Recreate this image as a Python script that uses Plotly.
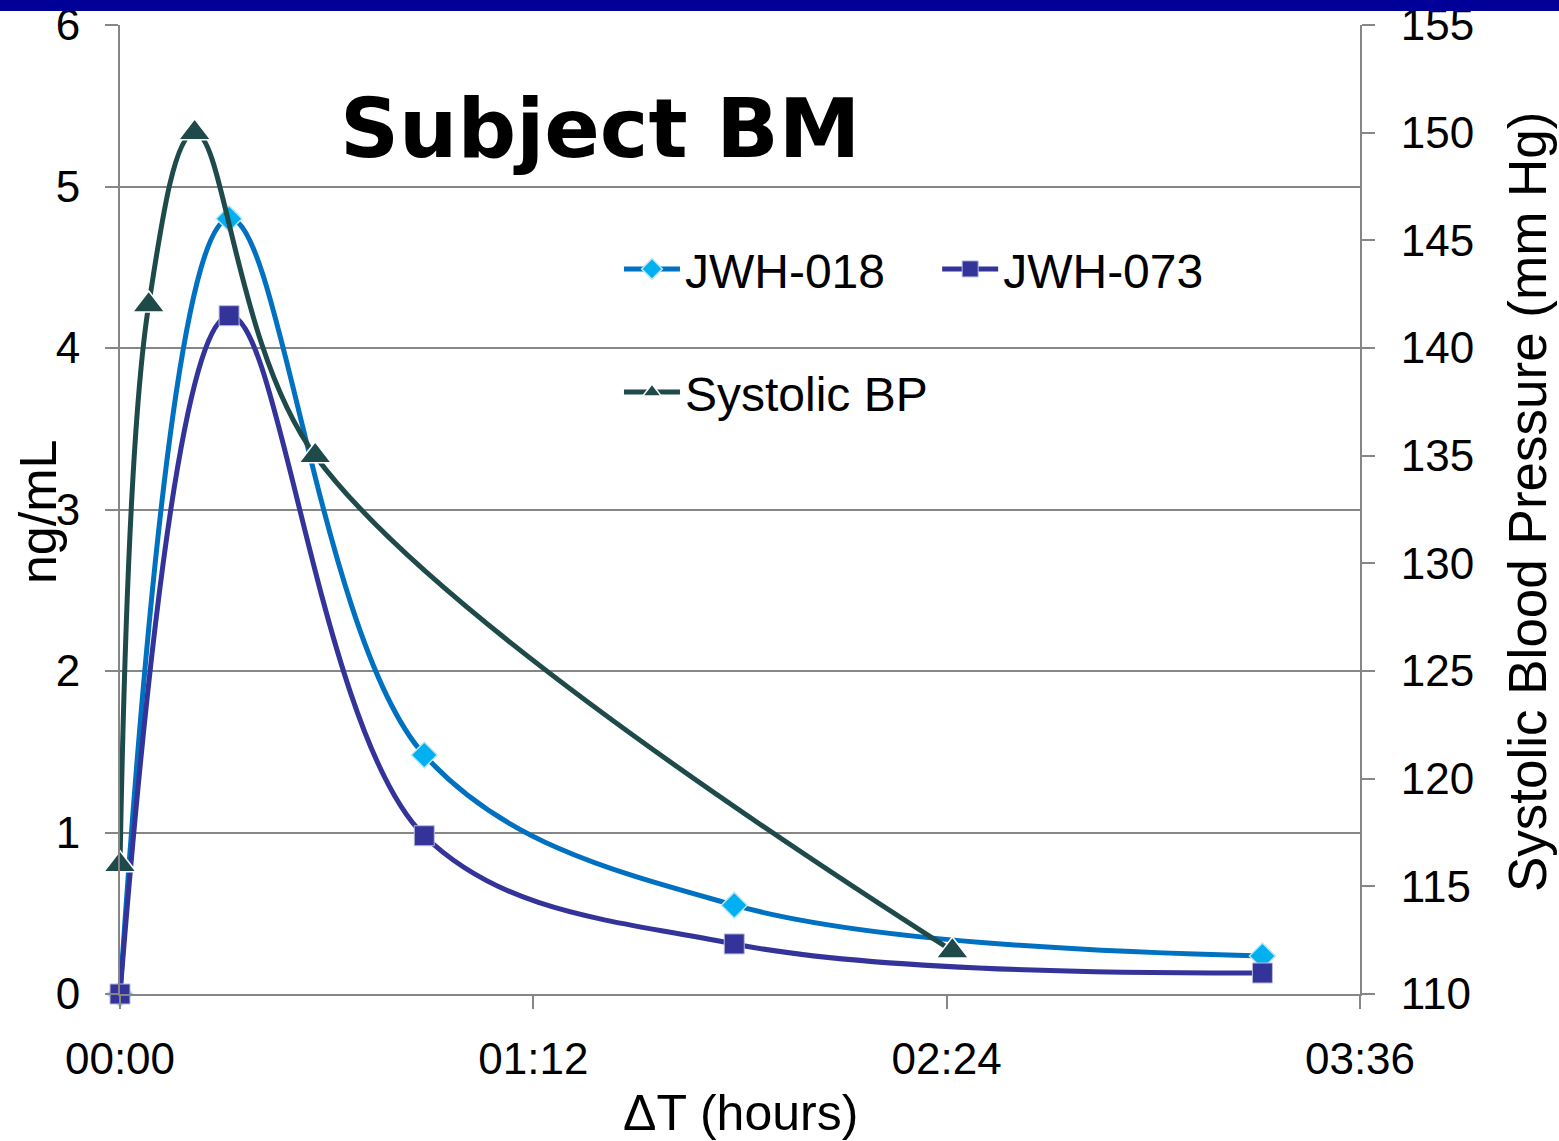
import plotly.graph_objects as go

# ---- data (minutes since dose) ----
time_jwh = [0, 19, 53, 107, 199]
jwh018 = [0, 4.80, 1.48, 0.55, 0.235]
jwh073 = [0, 4.20, 0.98, 0.31, 0.13]
time_bp = [0, 5, 13, 34, 145]
systolic_bp = [116, 142, 150, 135, 112]

x_tickvals = [0, 72, 144, 216]
x_ticktext = ["00:00", "01:12", "02:24", "03:36"]
left_ticks = [0, 1, 2, 3, 4, 5, 6]
right_ticks = [110, 115, 120, 125, 130, 135, 140, 145, 150, 155]

FONT = "Liberation Sans, Arial, sans-serif"
GRID = "#868686"

fig = go.Figure()
fig.add_trace(go.Scatter(
    x=time_jwh, y=jwh018, name="JWH-018", mode="lines+markers",
    line=dict(color="#0070C0", width=5, shape="spline", smoothing=1),
    marker=dict(symbol="diamond", size=20, color="#00B0F0",
                line=dict(color="#BFE6F2", width=1.5)),
    cliponaxis=False, legend="legend"))
fig.add_trace(go.Scatter(
    x=time_jwh, y=jwh073, name="JWH-073", mode="lines+markers",
    line=dict(color="#333399", width=5, shape="spline", smoothing=1),
    marker=dict(symbol="square", size=20, color="#333399",
                line=dict(color="#B8BCE0", width=1)),
    cliponaxis=False, legend="legend2"))
fig.add_trace(go.Scatter(
    x=time_bp, y=systolic_bp, name="Systolic BP", mode="lines+markers",
    line=dict(color="#1F4A4A", width=5, shape="spline", smoothing=1),
    marker=dict(symbol="triangle-up", size=28, color="#1F4A4A",
                line=dict(color="#FFFFFF", width=1.5)),
    cliponaxis=False, yaxis="y2", legend="legend3"))

tickfont = dict(family=FONT, size=44, color="#000000")
legfont = dict(family=FONT, size=48, color="#000000")

fig.update_layout(
    width=1559, height=1141,
    margin=dict(l=120, r=199, t=25, b=147, autoexpand=False),
    paper_bgcolor="white", plot_bgcolor="white",
    font=dict(family=FONT, color="#000000"),
    xaxis=dict(range=[0, 216], tickvals=x_tickvals, ticktext=x_ticktext,
               showgrid=False, zeroline=False, showline=True,
               linecolor=GRID, linewidth=2, ticks="outside", ticklen=13,
               tickwidth=2, tickcolor=GRID, tickfont=tickfont,
               ticklabelstandoff=12, automargin=False),
    yaxis=dict(range=[0, 6], tickvals=left_ticks, showgrid=True,
               gridcolor=GRID, gridwidth=2, zeroline=False, showline=True,
               linecolor=GRID, linewidth=2, ticks="outside", ticklen=13,
               tickwidth=2, tickcolor=GRID, tickfont=tickfont,
               ticklabelstandoff=16, automargin=False),
    yaxis2=dict(range=[110, 155], tickvals=right_ticks, overlaying="y",
                side="right", showgrid=False, zeroline=False, showline=True,
                linecolor=GRID, linewidth=2, ticks="outside", ticklen=13,
                tickwidth=2, tickcolor=GRID, tickfont=tickfont,
                ticklabelstandoff=17, automargin=False),
    legend=dict(x=0.4024, y=0.748, xanchor="left", yanchor="middle",
                bgcolor="rgba(0,0,0,0)", itemwidth=56, font=legfont),
    legend2=dict(x=0.659, y=0.748, xanchor="left", yanchor="middle",
                 bgcolor="rgba(0,0,0,0)", itemwidth=56, font=legfont),
    legend3=dict(x=0.4024, y=0.621, xanchor="left", yanchor="middle",
                 bgcolor="rgba(0,0,0,0)", itemwidth=56, font=legfont),
    showlegend=True,
)

# chart title and axis titles
fig.add_annotation(text="<b>Subject BM</b>", xref="paper", yref="paper",
                   x=0.3871, y=0.8927, xanchor="center", yanchor="middle",
                   showarrow=False,
                   font=dict(family="DejaVu Sans, " + FONT, size=82, color="#000000"))
fig.add_annotation(text="ΔT (hours)", xref="paper", yref="paper",
                   x=0.5, y=-0.1228, xanchor="center", yanchor="middle",
                   showarrow=False, font=dict(family=FONT, size=50))
fig.add_annotation(text="ng/mL", xref="paper", yref="paper", textangle=-90,
                   x=-0.0661, y=0.4974, xanchor="center", yanchor="middle",
                   showarrow=False, font=dict(family=FONT, size=52))
fig.add_annotation(text="Systolic Blood Pressure (mm Hg)", xref="paper",
                   yref="paper", textangle=-90,
                   x=1.1347, y=0.5077, xanchor="center", yanchor="middle",
                   showarrow=False, font=dict(family=FONT, size=53))

# dark blue band at the top of the slide
fig.add_shape(type="rect", xref="paper", yref="paper",
              x0=-120 / 1240, x1=(1559 - 120) / 1240,
              y0=(994 - 11) / 969, y1=(994 + 5) / 969,
              fillcolor="#000099", line=dict(width=0), layer="above")

fig.write_html("out.html")
